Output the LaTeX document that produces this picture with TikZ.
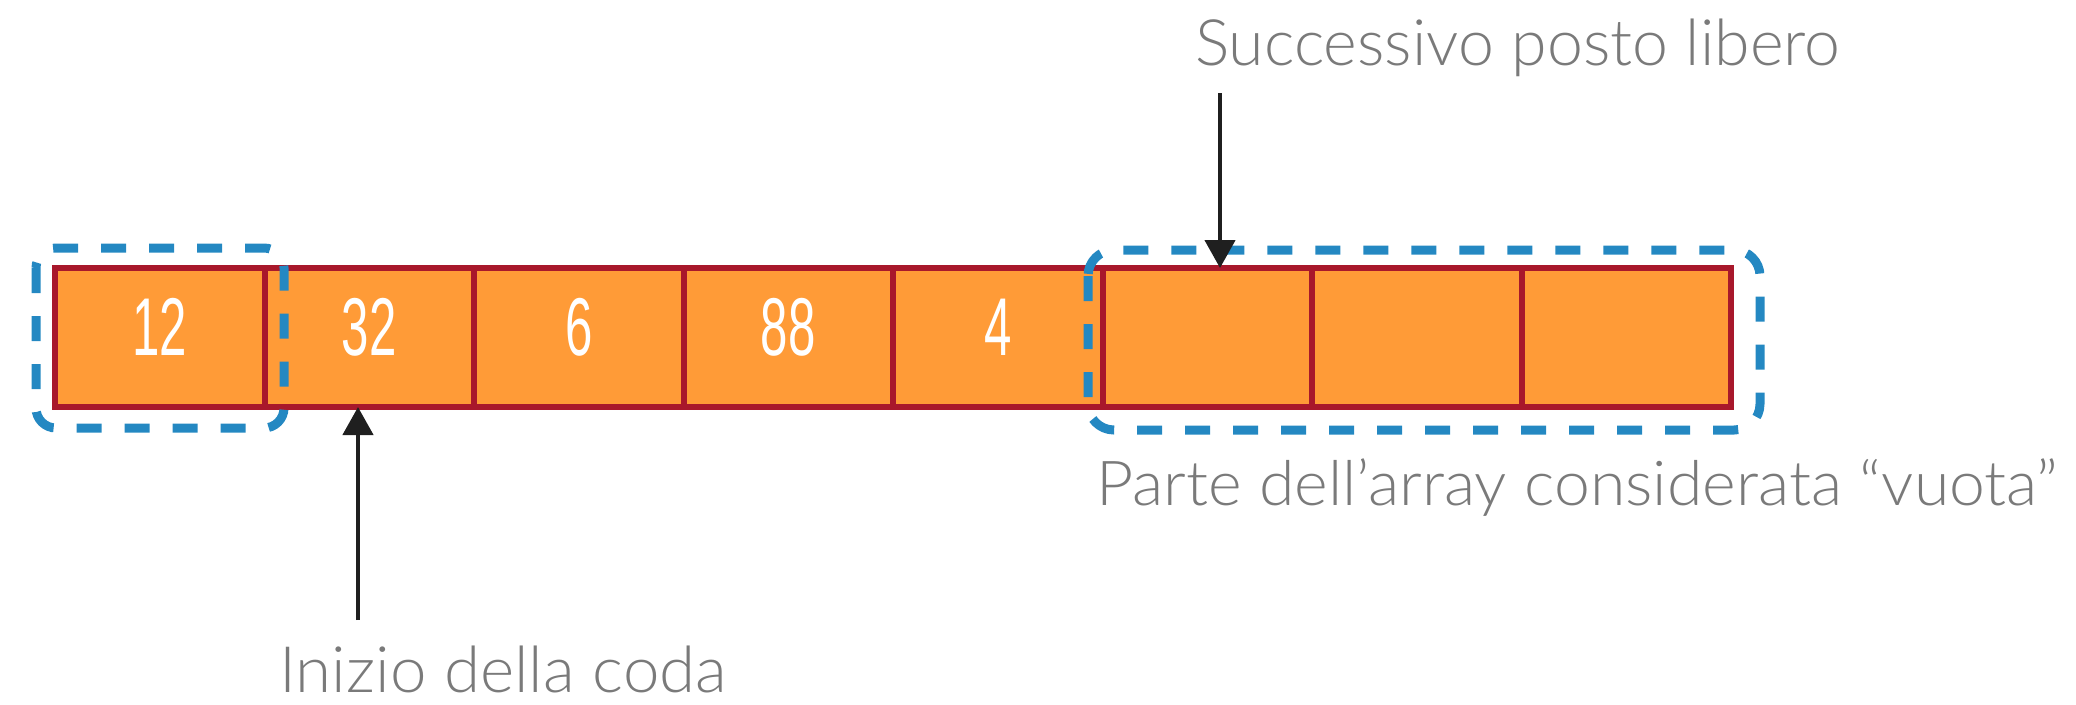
\documentclass[tikz,border=0pt]{standalone}
\usepackage{fontspec}
\setmainfont{Lato Light}
\newfontfamily\digitfont{Liberation Sans}
\usetikzlibrary{arrows.meta}
\definecolor{cellfill}{RGB}{255,155,55}
\definecolor{celledge}{RGB}{168,24,43}
\definecolor{dashblue}{RGB}{36,136,194}
\definecolor{labelgray}{RGB}{122,122,122}
\tikzset{
  cell/.style={draw=celledge, fill=cellfill, line width=6pt, minimum width=209.5pt, minimum height=139pt, inner sep=0pt, outer sep=0pt},
  digit/.style={text=white, inner sep=0pt, anchor=base, font=\digitfont\fontsize{82}{82}\selectfont},
  grp/.style={draw=dashblue, line width=9pt, dash pattern=on 25pt off 23pt},
  lbl/.style={text=labelgray, inner sep=0pt, anchor=base west, font=\fontsize{64}{64}\selectfont},
  arr/.style={draw=black!88, line width=4.5pt, -{Triangle[width=30pt,length=28pt]}},
}
\newcommand{\cond}[1]{\scalebox{0.6}[1]{\pdfliteral{}#1}}
\renewcommand{\cond}[1]{\scalebox{0.6}[1]{#1}}
\begin{document}
\begin{tikzpicture}[x=1pt,y=-1pt]
\useasboundingbox (0,0) rectangle (2076,704);
% cells
\foreach \i in {1,...,8}{
  \node[cell] (c\i) at ({55+209.5*(\i-0.5)},337.5) {};
}
\node[digit] (d1) at ([yshift=-18pt]c1.center) {\cond{12}};
\node[digit] (d2) at ([yshift=-18pt]c2.center) {\cond{32}};
\node[digit] (d3) at ([yshift=-18pt]c3.center) {\cond{6}};
\node[digit] (d4) at ([yshift=-18pt]c4.center) {\cond{88}};
\node[digit] (d5) at ([yshift=-18pt]c5.center) {\cond{4}};
% dashed groups
\draw[grp, rounded corners=20pt] (36,248) rectangle (284,428);
\draw[grp, rounded corners=26pt] (1088,250) rectangle (1760,430);
% labels
\node[lbl] (top) at (1195,65) {\resizebox{645pt}{\height}{Successivo posto libero}};
\node[lbl] (bot) at (279,692) {\smash{\resizebox{448pt}{\height}{Inizio della coda}}};
\node[lbl, font=\fontsize{62}{62}\selectfont] (empty) at (1096,505) {\resizebox{962pt}{\height}{Parte dell’array considerata “vuota”}};
% arrows
\coordinate (a1) at (358,620);
\coordinate (a2) at (1220,93);
\draw[arr] (a1) -- (a1 |- c2.south);
\draw[arr] (a2) -- (a2 |- c6.north);
\end{tikzpicture}
\end{document}
